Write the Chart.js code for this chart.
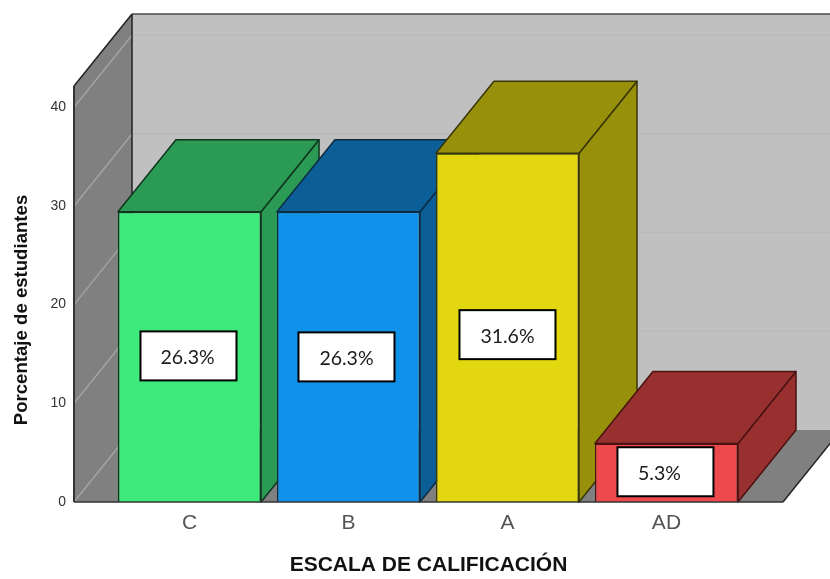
<!DOCTYPE html>
<html>
<head>
<meta charset="utf-8">
<title>Escala de calificación</title>
<script src="https://cdn.jsdelivr.net/npm/chart.js@4"></script>
<style>
    body { margin: 0; background: #fff; }
    canvas { display: block; }
</style>
</head>
<body>
<canvas id="bar-chart" width="830" height="579"></canvas>
<script>
const categories = ["C", "B", "A", "AD"];
const percentages = [26.3, 26.3, 31.6, 5.3];
const axisTicks = [0, 10, 20, 30, 40];

const frontColors = ["#3eea7c", "#1192ea", "#e3d80f", "#ee4a4d"];
const depthColors = ["#2a9a55", "#0c5f96", "#97900a", "#993030"];
const edgeColors = ["#10361e", "#0b2c44", "#3a3608", "#4a1212"];

// how far the walls and boxes recede up and to the right
const depthX = 58;
const depthY = 72;

// value boxes were placed by hand: nudges from the middle of each bar
const boxNudgeX = [-1, -2, 0, -1];
const boxNudgeY = [-1, 0, 7, -1];
const textNudgeX = [-1, 0, 0, -6];

function polygon(ctx, points, fill, stroke, lineWidth) {
    ctx.beginPath();
    points.forEach(function (p, i) {
        if (i == 0) ctx.moveTo(p[0], p[1]);
        else ctx.lineTo(p[0], p[1]);
    });
    ctx.closePath();
    ctx.fillStyle = fill;
    ctx.fill();
    if (stroke) {
        ctx.strokeStyle = stroke;
        ctx.lineWidth = lineWidth;
        ctx.stroke();
    }
}

function line(ctx, x1, y1, x2, y2, color, width) {
    ctx.beginPath();
    ctx.moveTo(x1, y1);
    ctx.lineTo(x2, y2);
    ctx.strokeStyle = color;
    ctx.lineWidth = width;
    ctx.stroke();
}

// back wall, side wall and floor behind the bars
const wallsPlugin = {
    id: "walls",
    beforeDatasetsDraw: function (chart) {
        const ctx = chart.ctx;
        const area = chart.chartArea;
        const y = chart.scales.y;
        const l = area.left, r = area.right, t = area.top, b = area.bottom;

        ctx.save();
        polygon(ctx, [[l + depthX, t - depthY], [830, t - depthY], [830, b - depthY], [l + depthX, b - depthY]], "#c0c0c0");
        polygon(ctx, [[l, b], [r, b], [r + depthX, b - depthY], [l + depthX, b - depthY]], "#808080");
        polygon(ctx, [[l, t], [l + depthX, t - depthY], [l + depthX, b - depthY], [l, b]], "#808080");

        axisTicks.forEach(function (tick) {
            const py = y.getPixelForValue(tick);
            line(ctx, l, py, l + depthX, py - depthY, "#a2a2a2", 1.5);
            if (tick > 0) line(ctx, l + depthX, py - depthY, 830, py - depthY, "#b9b9b9", 1.5);
        });

        line(ctx, l + depthX, t - depthY, 830, t - depthY, "#4a4a4a", 1.5);
        line(ctx, l, t, l + depthX, t - depthY, "#222", 1.5);
        line(ctx, l + depthX, t - depthY, l + depthX, b - depthY, "#222", 1.5);
        line(ctx, l, t, l, b, "#333", 2);
        line(ctx, r, b, r + depthX, b - depthY, "#222", 1.5);
        ctx.restore();
    }
};

// top and side face of every bar, left to right so later bars cover earlier ones
const barDepthPlugin = {
    id: "barDepth",
    beforeDatasetsDraw: function (chart) {
        const ctx = chart.ctx;
        ctx.save();
        ctx.lineJoin = "round";
        chart.getDatasetMeta(0).data.forEach(function (bar, i) {
            const left = bar.x - bar.width / 2;
            const right = bar.x + bar.width / 2;
            polygon(ctx, [[right, bar.y], [right + depthX, bar.y - depthY], [right + depthX, bar.base - depthY], [right, bar.base]], depthColors[i], edgeColors[i], 1.5);
            polygon(ctx, [[left, bar.y], [left + depthX, bar.y - depthY], [right + depthX, bar.y - depthY], [right, bar.y]], depthColors[i], edgeColors[i], 1.5);
        });
        ctx.restore();
    }
};

// white boxes with the percentage, plus the baseline and the y axis title
const labelsPlugin = {
    id: "valueBoxes",
    afterDatasetsDraw: function (chart) {
        const ctx = chart.ctx;
        const area = chart.chartArea;
        ctx.save();
        line(ctx, area.left, area.bottom, area.right, area.bottom, "#333", 1.5);

        chart.getDatasetMeta(0).data.forEach(function (bar, i) {
            const cx = bar.x + boxNudgeX[i];
            const cy = (bar.y + bar.base) / 2 + boxNudgeY[i];
            ctx.fillStyle = "#fff";
            ctx.fillRect(cx - 48, cy - 24.5, 96, 49);
            ctx.strokeStyle = "#000";
            ctx.lineWidth = 2;
            ctx.strokeRect(cx - 48, cy - 24.5, 96, 49);

            ctx.fillStyle = "#1a1a1a";
            ctx.font = "19.5px Lato";
            ctx.textAlign = "center";
            ctx.textBaseline = "middle";
            ctx.fillText(percentages[i].toFixed(1) + "%", cx + textNudgeX[i], cy + 2);
        });

        ctx.translate(22, 310);
        ctx.rotate(-Math.PI / 2);
        ctx.fillStyle = "#111";
        ctx.font = "bold 18.6px 'Liberation Sans'";
        ctx.textAlign = "center";
        ctx.textBaseline = "middle";
        ctx.fillText("Porcentaje de estudiantes", 0, 0);
        ctx.restore();
    }
};

const ctx = document.getElementById("bar-chart").getContext("2d");

new Chart(ctx, {
    type: "bar",
    data: {
        datasets: [{
            data: percentages.map(function (v, i) { return { x: i, y: v }; }),
            yAxisID: "yBars",
            backgroundColor: frontColors,
            borderColor: edgeColors,
            borderWidth: 1.5,
            barPercentage: 0.9,
            categoryPercentage: 1
        }]
    },
    plugins: [wallsPlugin, barDepthPlugin, labelsPlugin],
    options: {
        responsive: false,
        animation: false,
        layout: { padding: { top: 86, right: 47 } },
        plugins: {
            legend: { display: false },
            tooltip: { enabled: false }
        },
        scales: {
            x: {
                type: "linear",
                offset: false,
                min: -0.7264,
                max: 3.733,
                grid: { display: false },
                border: { display: false },
                afterBuildTicks: function (axis) {
                    axis.ticks = categories.map(function (c, i) { return { value: i }; });
                },
                afterFit: function (axis) { axis.height = 77; },
                ticks: {
                    autoSkip: false,
                    maxRotation: 0,
                    padding: 1,
                    color: "#555",
                    font: { family: "'Liberation Sans'", size: 21 },
                    callback: function (value) { return categories[value]; }
                },
                title: {
                    display: true,
                    text: "ESCALA DE CALIFICACIÓN",
                    color: "#111",
                    padding: { top: 0, bottom: 1 },
                    font: { family: "'Liberation Sans'", size: 21, weight: "bold" }
                }
            },
            y: {
                min: 0,
                max: 42.15,
                grid: { display: false },
                border: { display: false },
                afterFit: function (axis) { axis.width = 74; },
                ticks: {
                    stepSize: 10,
                    includeBounds: false,
                    padding: 0,
                    color: "#333",
                    font: { family: "'Liberation Sans'", size: 14 }
                }
            },
            // the boxes stand taller than the printed axis: 26.3% reaches past the 29 mark
            yBars: {
                display: false,
                min: 0,
                max: 37.7
            }
        }
    }
});
</script>
</body>
</html>
